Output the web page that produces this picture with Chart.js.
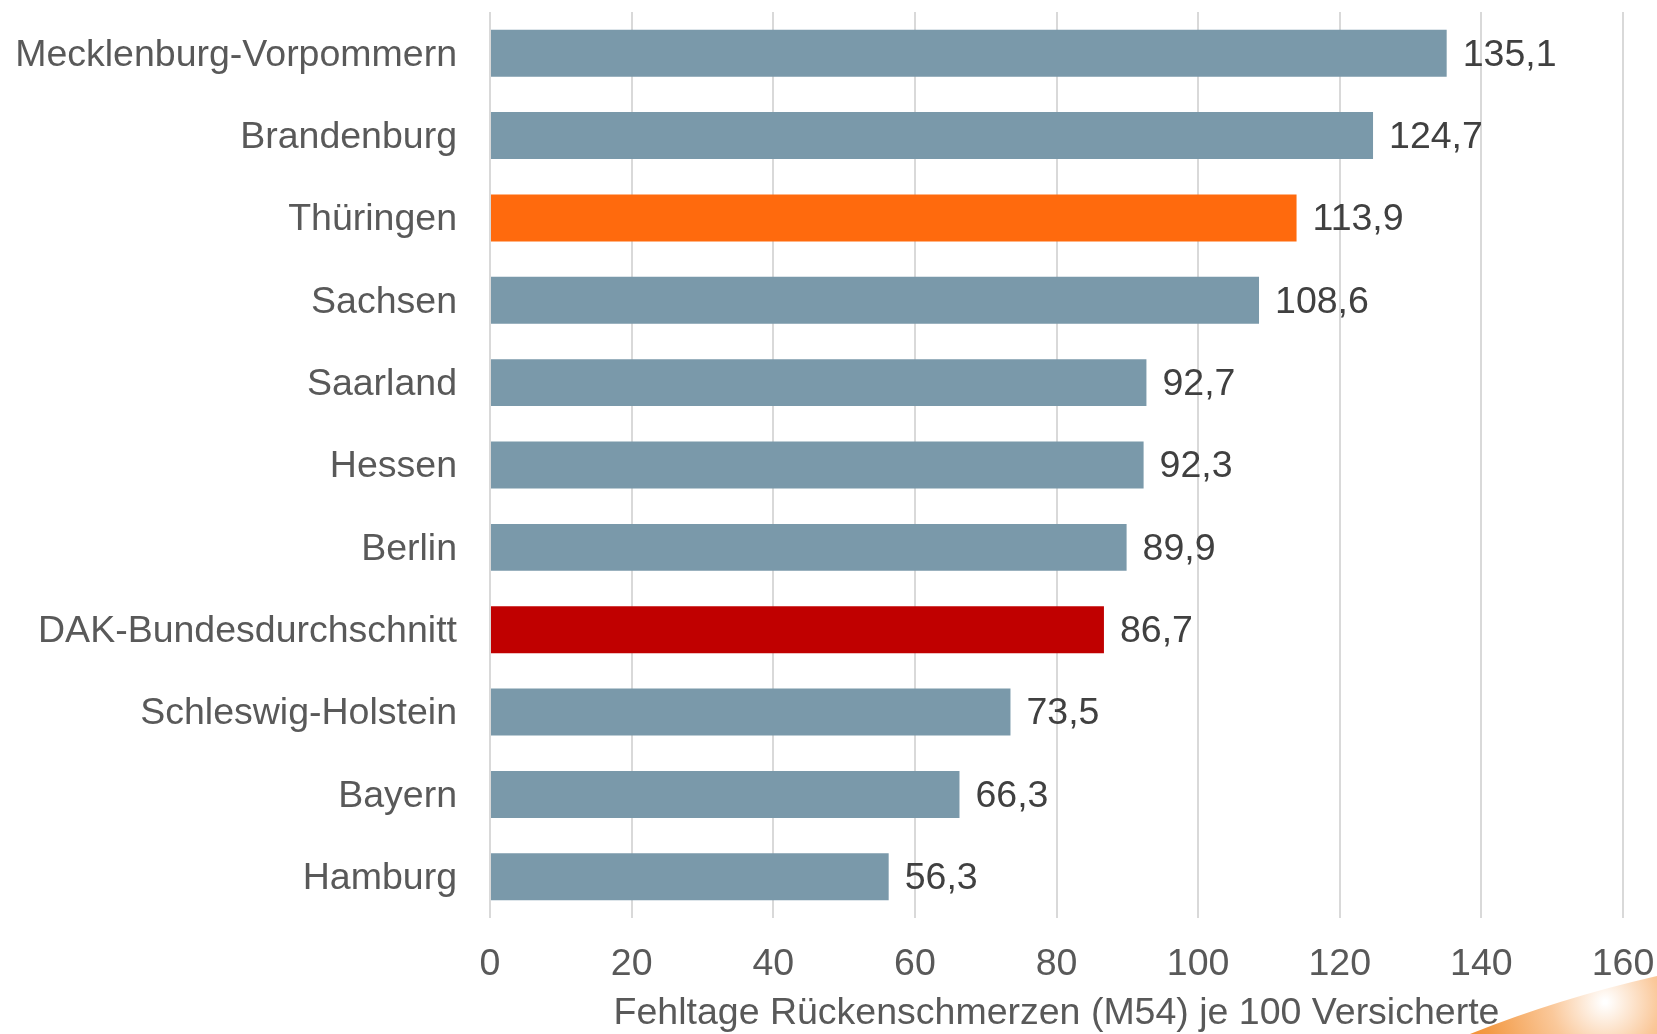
<html>
<head>
    <meta charset="utf-8">
    <title>Fehltage Rückenschmerzen</title>
    <style>
        body { margin: 0; background: #fff; }
        canvas { display: block; }
    </style>
</head>
<body>
    <canvas id="myChart" width="1657" height="1034"></canvas>
</body>
<script src="https://cdn.jsdelivr.net/npm/chart.js"></script>
<script>
    const categories = [
        'Mecklenburg-Vorpommern', 'Brandenburg', 'Thüringen', 'Sachsen', 'Saarland',
        'Hessen', 'Berlin', 'DAK-Bundesdurchschnitt', 'Schleswig-Holstein', 'Bayern', 'Hamburg'
    ]
    const values = [135.1, 124.7, 113.9, 108.6, 92.7, 92.3, 89.9, 86.7, 73.5, 66.3, 56.3]
    const xTicks = [0, 20, 40, 60, 80, 100, 120, 140, 160]
    const axisTitle = 'Fehltage Rückenschmerzen (M54) je 100 Versicherte'

    const highlight = {
        'Thüringen': '#FF6A0D',
        'DAK-Bundesdurchschnitt': '#C00000'
    }
    const barColor = c => highlight[c] || '#7A99AA'

    const FONT = "'Liberation Sans', Arial, Helvetica, sans-serif"
    const FS = 37.5

    // value labels right of each bar
    const valueLabels = {
        id: 'valueLabels',
        afterDatasetsDraw(chart) {
            const ctx = chart.ctx
            const meta = chart.getDatasetMeta(0)
            ctx.save()
            ctx.font = FS + 'px ' + FONT
            ctx.fillStyle = '#404040'
            ctx.textAlign = 'left'
            ctx.textBaseline = 'middle'
            meta.data.forEach((bar, i) => {
                const txt = values[i].toFixed(1).replace('.', ',')
                ctx.fillText(txt, bar.x + 16, bar.y + 2)
            })
            ctx.restore()
        }
    }

    // orange corner swoosh
    const corner = {
        id: 'corner',
        afterDraw(chart) {
            const ctx = chart.ctx
            const w = chart.width, h = chart.height
            ctx.save()
            ctx.beginPath()
            ctx.moveTo(w - 187, h)
            ctx.quadraticCurveTo(w - 100, h - 35, w, h - 58)
            ctx.lineTo(w, h)
            ctx.closePath()
            const g = ctx.createRadialGradient(w - 52, h - 32, 2, w - 52, h - 32, 150)
            g.addColorStop(0, '#FFFFFF')
            g.addColorStop(0.35, '#FAC89A')
            g.addColorStop(0.8, '#F39A45')
            g.addColorStop(1, '#F28C30')
            ctx.fillStyle = g
            ctx.fill()
            ctx.restore()
        }
    }

    const ctx = document.getElementById('myChart').getContext('2d')
    new Chart(ctx, {
        type: 'bar',
        data: {
            labels: categories,
            datasets: [{
                data: values,
                backgroundColor: categories.map(barColor),
                barPercentage: 1,
                categoryPercentage: 0.57
            }]
        },
        options: {
            indexAxis: 'y',
            responsive: false,
            animation: false,
            layout: { padding: { top: 12, right: 34, left: 0, bottom: 0 } },
            plugins: {
                legend: { display: false },
                tooltip: { enabled: false }
            },
            scales: {
                x: {
                    min: 0,
                    max: 160,
                    afterBuildTicks: s => { s.ticks = xTicks.map(v => ({ value: v })) },
                    afterFit: s => {
                        s.height = 116
                        s.paddingLeft = 0
                        s.paddingRight = 0
                    },
                    grid: { color: '#D9D9D9', lineWidth: 2, drawTicks: false },
                    border: { display: false },
                    ticks: {
                        padding: 24,
                        color: '#595959',
                        font: { size: FS, family: FONT },
                        maxRotation: 0
                    },
                    title: {
                        display: true,
                        text: axisTitle,
                        color: '#595959',
                        font: { size: FS, family: FONT, lineHeight: 1 },
                        padding: { top: 0, bottom: 2 }
                    }
                },
                y: {
                    afterFit: s => {
                        s.width = 490
                        s.paddingTop = 0
                        s.paddingBottom = 0
                    },
                    grid: { display: false, drawTicks: false },
                    border: { display: false },
                    ticks: {
                        padding: 33,
                        labelOffset: 2,
                        color: '#595959',
                        font: { size: FS, family: FONT },
                        autoSkip: false
                    }
                }
            }
        },
        plugins: [valueLabels, corner]
    })
</script>
</html>
